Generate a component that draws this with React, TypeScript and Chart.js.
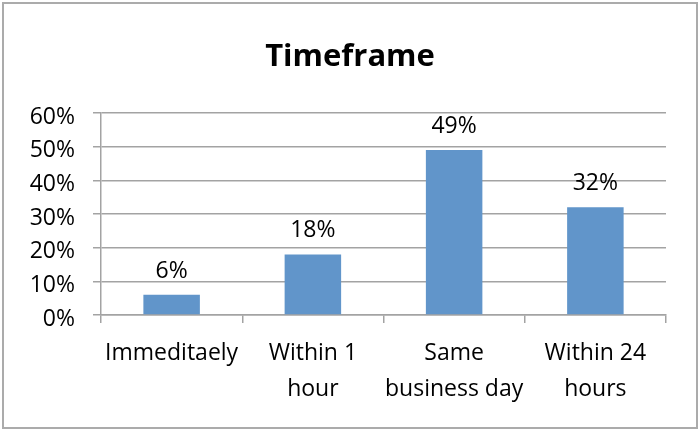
import React, { useEffect, useRef } from "react";
import { Chart, registerables } from "chart.js";

Chart.register(...registerables);

// Response timeframe survey
const chartTitle = "Timeframe";
const categories: string[][] = [
  ["Immeditaely"],
  ["Within 1", "hour"],
  ["Same", "business day"],
  ["Within 24", "hours"],
];
const shares = [0.06, 0.18, 0.49, 0.32];
const shareLabels = ["6%", "18%", "49%", "32%"];
const percentTicks = ["0%", "10%", "20%", "30%", "40%", "50%", "60%"];

const FONT = "'Open Sans', 'DejaVu Sans', sans-serif";
const GRID = "#a3a3a3";

// Writes each bar's value just above the bar top
const valueLabels = {
  id: "valueLabels",
  afterDatasetsDraw(chart: any) {
    const { ctx } = chart;
    const meta = chart.getDatasetMeta(0);
    ctx.save();
    ctx.font = `23px ${FONT}`;
    ctx.fillStyle = "#000";
    ctx.textAlign = "center";
    ctx.textBaseline = "alphabetic";
    meta.data.forEach((bar: any, i: number) => {
      ctx.fillText(shareLabels[i], bar.x, bar.y - 17);
    });
    ctx.restore();
  },
};

export default function App() {
  const canvasRef = useRef<HTMLCanvasElement | null>(null);

  useEffect(() => {
    if (!canvasRef.current) return;
    const chart = new Chart(canvasRef.current, {
      type: "bar",
      data: {
        labels: categories,
        datasets: [
          {
            data: shares,
            backgroundColor: "#6195ca",
            borderWidth: 0,
            barPercentage: 0.4,
            categoryPercentage: 1,
          },
        ],
      },
      options: {
        animation: false,
        responsive: false,
        maintainAspectRatio: false,
        layout: { padding: 0 },
        plugins: {
          legend: { display: false },
          tooltip: { enabled: false },
          title: {
            display: true,
            text: chartTitle,
            color: "#000",
            font: { family: FONT, size: 31, weight: "bold", lineHeight: 1.2 },
            padding: { top: 38.5, bottom: 37.3 },
          },
        },
        scales: {
          x: {
            grid: {
              display: true,
              drawOnChartArea: false,
              drawTicks: true,
              tickLength: 8,
              color: GRID,
              lineWidth: 1.5,
            },
            border: { display: true, color: GRID, width: 1.5 },
            ticks: {
              color: "#000",
              padding: 12,
              maxRotation: 0,
              autoSkip: false,
              font: { family: FONT, size: 23, lineHeight: 1.565 },
            },
            afterFit(scale: any) {
              scale.height = 115;
            },
          },
          y: {
            min: 0,
            max: 0.6,
            grid: {
              color: GRID,
              lineWidth: 1.5,
              drawTicks: true,
              tickLength: 8,
            },
            border: { display: true, color: GRID, width: 1.5 },
            ticks: {
              stepSize: 0.1,
              color: "#000",
              padding: 18,
              labelOffset: 4,
              font: { family: FONT, size: 23 },
              callback: (_v: any, i: number) => percentTicks[i],
            },
            afterFit(scale: any) {
              scale.width = 101;
            },
          },
          // empty right-hand margin so the title stays centred on the whole canvas
          margin: {
            type: "linear",
            position: "right",
            display: true,
            grid: { display: false, drawTicks: false },
            border: { display: false },
            ticks: { display: false },
            afterFit(scale: any) {
              scale.width = 34;
            },
          },
        },
      },
      plugins: [valueLabels],
    });
    return () => chart.destroy();
  }, []);

  return (
    <div style={{ position: "absolute", left: 0, top: 0, width: 700, height: 430, background: "#fff" }}>
      <div
        style={{
          position: "absolute",
          left: 2,
          top: 2,
          width: 696,
          height: 427,
          boxSizing: "border-box",
          border: "2px solid #ababab",
        }}
      />
      <canvas
        ref={canvasRef}
        width={700}
        height={430}
        style={{ position: "absolute", left: 0, top: 0, width: 700, height: 430 }}
      />
    </div>
  );
}
